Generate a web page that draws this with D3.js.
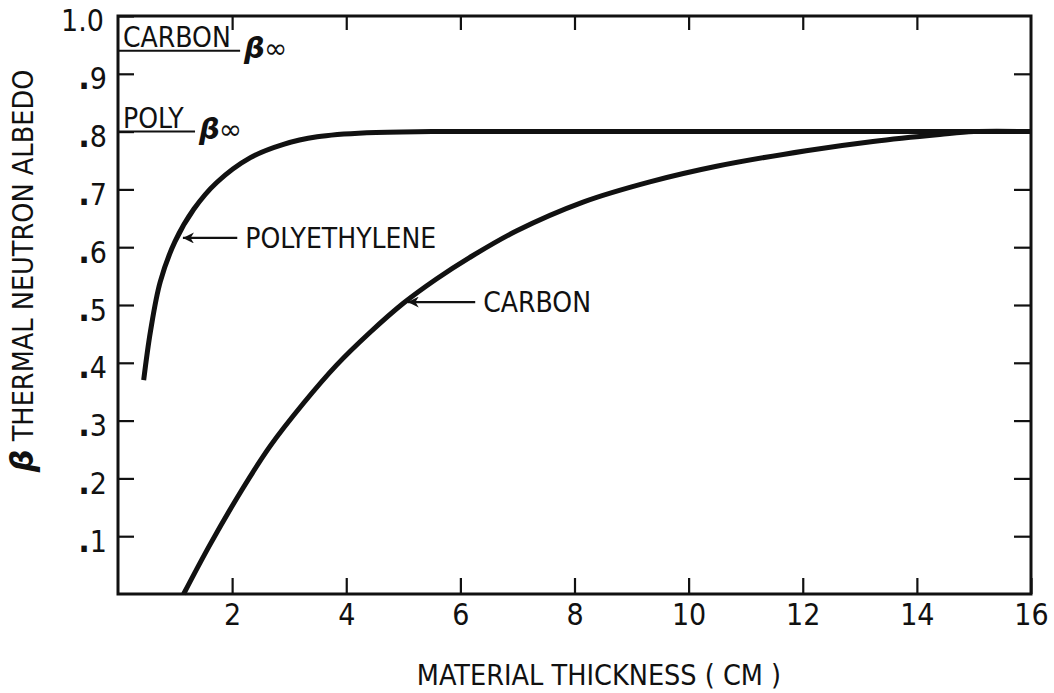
<!DOCTYPE html>
<html>
<head>
<meta charset="utf-8">
<script src="https://cdn.jsdelivr.net/npm/d3@7"></script>
<style>
  html, body { margin: 0; padding: 0; background: #fff; }
  svg { display: block; font-family: "Liberation Sans Narrow", "DejaVu Sans Condensed", "Arial Narrow", sans-serif; }
</style>
</head>
<body>
<div id="chart"></div>
<script>
// Thermal neutron albedo versus material thickness (cm)
const polyThickness = [0.45, 0.57, 0.74, 1.0, 1.33, 1.73, 2.32, 2.9, 3.49, 4.36, 5.5, 8, 10, 12, 14, 16];
const polyAlbedo    = [0.370, 0.455, 0.540, 0.610, 0.666, 0.712, 0.755, 0.778, 0.791, 0.798, 0.80, 0.80, 0.80, 0.80, 0.80, 0.80];

const carbonThickness = [1.15, 1.61, 2.17, 2.66, 3.25, 3.83, 4.41, 5.0, 5.58, 6.16, 6.98, 8.15, 9.32, 10.49, 12.06, 13.23, 14.4, 15.0, 16];
const carbonAlbedo    = [0.0, 0.085, 0.180, 0.255, 0.330, 0.396, 0.452, 0.503, 0.545, 0.582, 0.628, 0.678, 0.713, 0.740, 0.767, 0.783, 0.795, 0.80, 0.80];

const xTicks = [2, 4, 6, 8, 10, 12, 14, 16];
const xTickLabels = ["2", "4", "6", "8", "10", "12", "14", "16"];
const yTicks = [0.1, 0.2, 0.3, 0.4, 0.5, 0.6, 0.7, 0.8, 0.9, 1.0];
const yTickLabels = [".1", ".2", ".3", ".4", ".5", ".6", ".7", ".8", ".9", "1.0"];

// Saturation (infinite thickness) albedo markers
const betaInfMaterials = ["CARBON", "POLY"];
const betaInfValues    = [0.94, 0.80];
const betaInfLineEnd   = [2.14, 1.35];

// Curve callouts
const calloutTexts = ["POLYETHYLENE", "CARBON"];
const calloutTipX  = [1.12, 5.06];
const calloutTipY  = [0.616, 0.505];
const calloutTailX = [2.09, 6.26];

const W = 1054, H = 693;
const margin = { left: 118, right: 23, top: 16, bottom: 99 };

const svg = d3.select("#chart").append("svg")
  .attr("width", W).attr("height", H);

// Arrowhead pointing along the line direction (tip at the line end)
svg.append("defs").append("marker")
  .attr("id", "arrowhead")
  .attr("viewBox", "0 0 10 10")
  .attr("refX", 10).attr("refY", 5)
  .attr("markerUnits", "userSpaceOnUse")
  .attr("markerWidth", 18).attr("markerHeight", 11)
  .attr("orient", "auto")
  .append("path")
  .attr("d", "M10,5 L0,0 L3,5 L0,10 Z")
  .attr("fill", "#111");

const x = d3.scaleLinear().domain([0, 16]).range([margin.left, W - margin.right]);
const y = d3.scaleLinear().domain([0, 1]).range([H - margin.bottom, margin.top]);

const ink = "#111";
const narrow = "\"Liberation Sans Narrow\", \"DejaVu Sans Condensed\", sans-serif";

// Frame
svg.append("rect")
  .attr("x", x(0)).attr("y", y(1))
  .attr("width", x(16) - x(0)).attr("height", y(0) - y(1))
  .attr("fill", "none").attr("stroke", ink).attr("stroke-width", 3);

const tickLen = 16;

// Bottom axis (ticks pointing inward)
const gx = svg.append("g")
  .attr("transform", `translate(0,${y(0)})`)
  .call(d3.axisBottom(x).tickValues(xTicks)
    .tickFormat((d, i) => xTickLabels[i])
    .tickSizeInner(-tickLen).tickSizeOuter(0).tickPadding(10));

// Top axis ticks
const gxTop = svg.append("g")
  .attr("transform", `translate(0,${y(1)})`)
  .call(d3.axisTop(x).tickValues(xTicks.filter(d => d < 16))
    .tickFormat("").tickSizeInner(-14).tickSizeOuter(0));

// Left axis
const gy = svg.append("g")
  .attr("transform", `translate(${x(0)},0)`)
  .call(d3.axisLeft(y).tickValues(yTicks)
    .tickFormat((d, i) => yTickLabels[i])
    .tickSizeInner(-tickLen).tickSizeOuter(0).tickPadding(11));

// Right axis ticks
const gyRight = svg.append("g")
  .attr("transform", `translate(${x(16)},0)`)
  .call(d3.axisRight(y).tickValues(yTicks.filter(d => d < 1))
    .tickFormat("").tickSizeInner(-17).tickSizeOuter(0));

[gx, gxTop, gy, gyRight].forEach(g => {
  g.select(".domain").remove();
  g.selectAll(".tick line").attr("stroke", ink).attr("stroke-width", 2.2);
  g.selectAll(".tick text")
    .attr("fill", ink)
    .attr("font-family", narrow)
    .attr("font-size", 30);
});

gy.selectAll(".tick text").attr("dy", "0.5em");
gy.selectAll(".tick").filter(d => d === 1).select("text").attr("dy", "0.48em").attr("x", -14);

// Enlarge the leading decimal point of the y labels
gy.selectAll(".tick text").each(function (d, i) {
  const t = yTickLabels[i];
  if (t.startsWith(".")) {
    const sel = d3.select(this).text("");
    sel.append("tspan").attr("font-weight", "bold").attr("font-size", 34).text(".");
    sel.append("tspan").text(t.slice(1));
  }
});

// Curves
const line = d3.line().x(d => x(d[0])).y(d => y(d[1])).curve(d3.curveCatmullRom.alpha(0.5));
const polyPts = polyThickness.map((t, i) => [t, polyAlbedo[i]]);
const carbonPts = carbonThickness.map((t, i) => [t, carbonAlbedo[i]]);

[polyPts, carbonPts].forEach(pts => {
  svg.append("path").datum(pts)
    .attr("d", line).attr("fill", "none")
    .attr("stroke", ink).attr("stroke-width", 5)
    .attr("stroke-linecap", "butt").attr("stroke-linejoin", "round");
});

// Beta-infinity reference marks
betaInfMaterials.forEach((m, i) => {
  const yy = y(betaInfValues[i]);
  svg.append("line")
    .attr("x1", x(0)).attr("x2", x(betaInfLineEnd[i]))
    .attr("y1", yy).attr("y2", yy)
    .attr("stroke", ink).attr("stroke-width", 2);
  svg.append("text")
    .attr("x", x(0) + 5).attr("y", yy - 4)
    .attr("font-size", 28).attr("fill", ink)
    .text(m);
  const bt = svg.append("text")
    .attr("x", x(betaInfLineEnd[i]) + 4).attr("y", yy + 7)
    .attr("fill", ink);
  bt.append("tspan")
    .attr("font-family", "\"DejaVu Sans\", sans-serif")
    .attr("font-style", "italic").attr("font-weight", "bold")
    .attr("font-size", 29).text("β");
  bt.append("tspan")
    .attr("font-family", "\"DejaVu Sans\", sans-serif")
    .attr("font-size", 28).attr("dx", -1).text("∞");
});

// Callout arrows and labels
calloutTexts.forEach((txt, i) => {
  const ty = y(calloutTipY[i]);
  svg.append("line")
    .attr("x1", x(calloutTailX[i])).attr("y1", ty)
    .attr("x2", x(calloutTipX[i]) + 1).attr("y2", ty)
    .attr("stroke", ink).attr("stroke-width", 2.2)
    .attr("marker-end", "url(#arrowhead)");
  svg.append("text")
    .attr("x", x(calloutTailX[i]) + 8).attr("y", ty + 10)
    .attr("font-size", 28).attr("fill", ink)
    .text(txt);
});

// Axis titles
svg.append("text")
  .attr("x", 599).attr("y", 685)
  .attr("text-anchor", "middle")
  .attr("font-size", 28.5).attr("fill", ink)
  .text("MATERIAL THICKNESS ( CM )");

const yt = svg.append("text")
  .attr("transform", `translate(33,${(75 + 467) / 2}) rotate(-90)`)
  .attr("text-anchor", "middle")
  .attr("font-size", 28.5).attr("fill", ink);
yt.append("tspan")
  .attr("font-family", "\"DejaVu Sans\", sans-serif")
  .attr("font-style", "italic").attr("font-weight", "bold")
  .attr("font-size", 32).text("β");
yt.append("tspan").text(" THERMAL NEUTRON ALBEDO");
</script>
</body>
</html>
